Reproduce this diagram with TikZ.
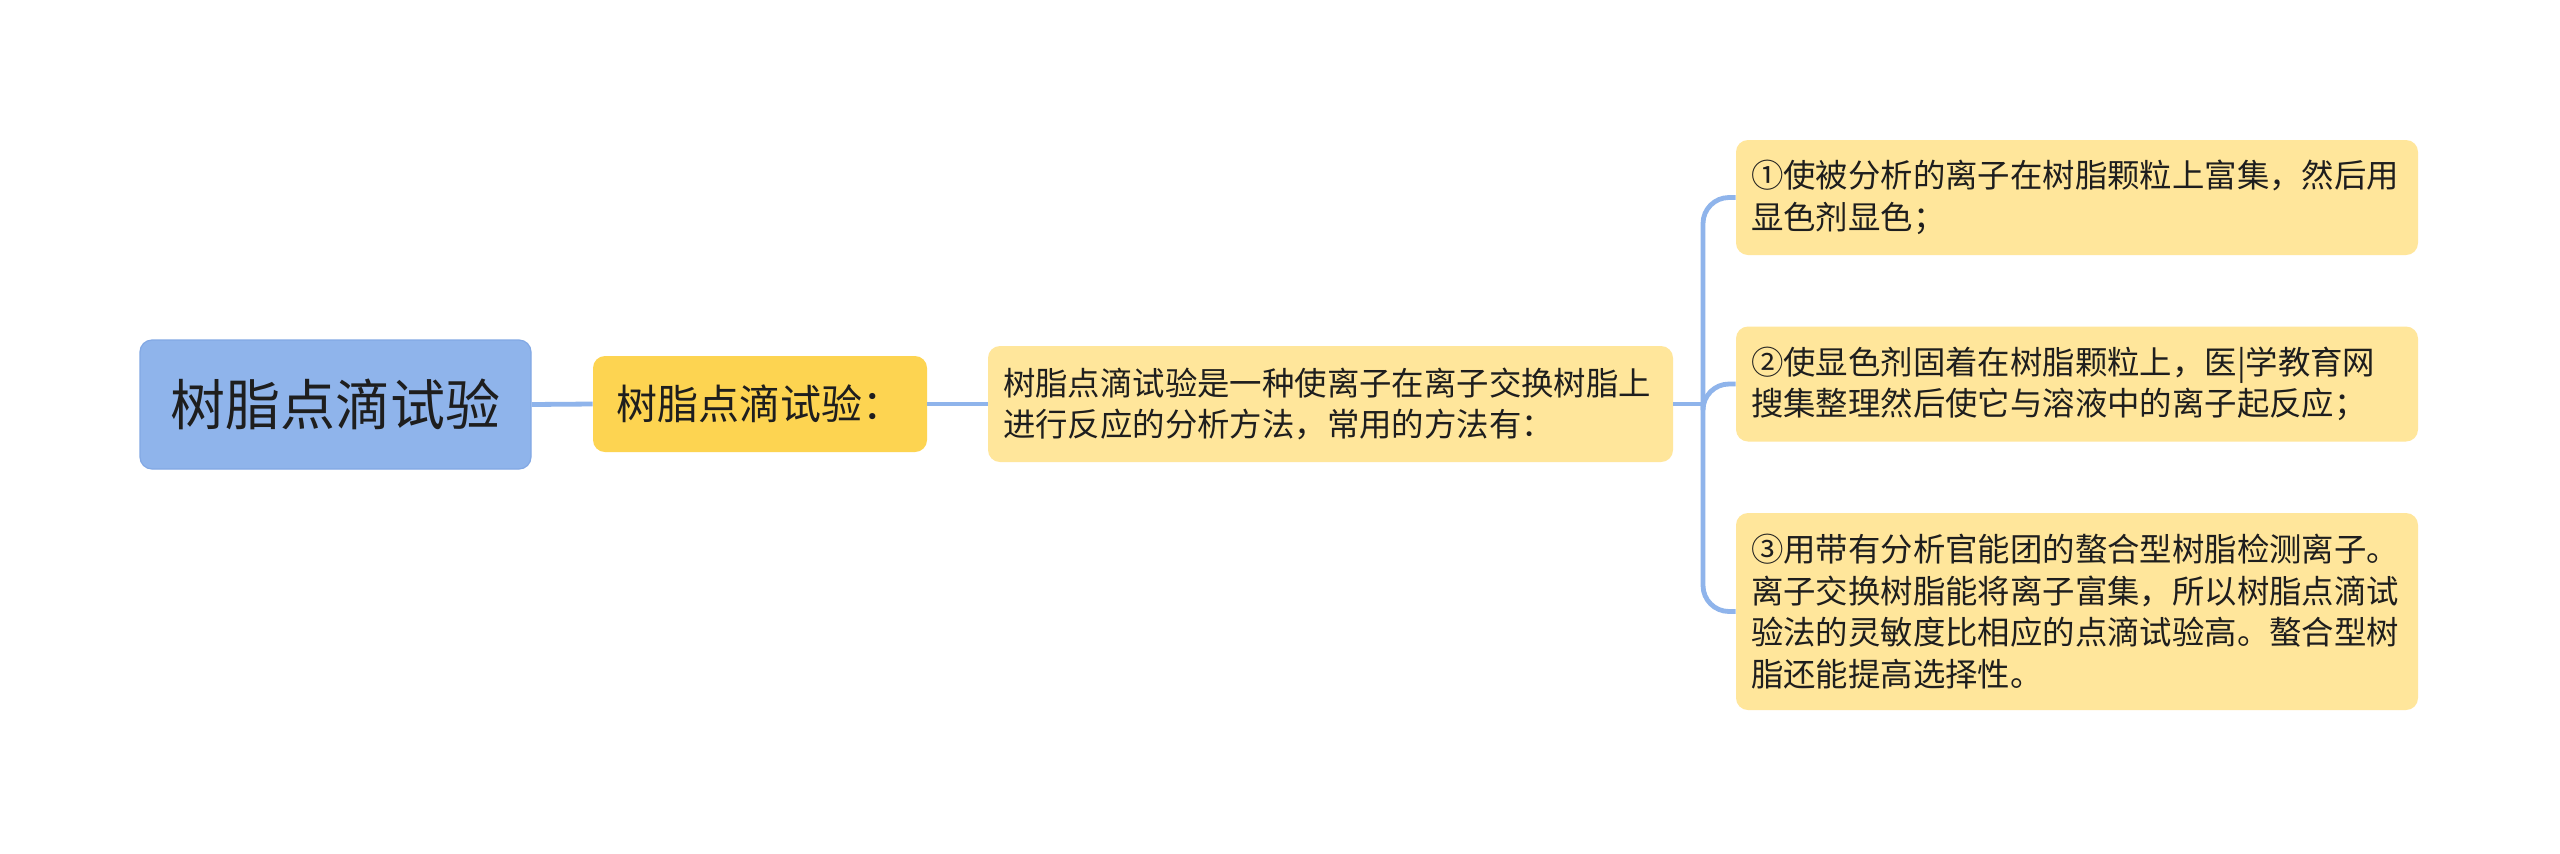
\documentclass[tikz,border=0pt]{standalone}
\usepackage{fontspec}
\setmainfont{Noto Sans CJK SC}
\definecolor{rootblue}{HTML}{8FB4EB}
\definecolor{rootedge}{HTML}{82A8E4}
\definecolor{gold}{HTML}{FDD451}
\definecolor{lightgold}{HTML}{FFE69B}
\definecolor{linkblue}{HTML}{8FB4EB}
\definecolor{ink}{HTML}{1E1E1E}
\tikzset{
  rootbox/.style={draw=rootedge, line width=0.6pt, fill=rootblue, rounded corners=6pt, minimum width=195.5pt, minimum height=64.5pt, inner sep=0pt, text=ink, font=\fontsize{27.5}{33}\selectfont},
  subbox/.style={fill=gold, rounded corners=6pt, minimum width=167pt, minimum height=48pt, inner sep=0pt, text=ink, font=\fontsize{20.5}{25}\selectfont},
  leafbox/.style={fill=lightgold, rounded corners=6pt, inner xsep=7.5pt, inner ysep=0pt, align=left, text=ink, font=\fontsize{16.2}{20.8}\selectfont},
  conn/.style={draw=linkblue, line width=2.4pt},
}
\begin{document}
\begin{tikzpicture}[x=0.5pt,y=-0.5pt]
\path[use as bounding box, fill=white] (0,0) rectangle (2560,853);
\node[rootbox] (root) at (335.5,404.5) {树脂点滴试验};
\node[subbox] (sub) at (760,404) {树脂点滴试验：};
\node[leafbox, text width=327.5pt, minimum height=58pt] (desc) at (1330.5,404) {树脂点滴试验是一种使离子在离子交换树脂上\\进行反应的分析方法，常用的方法有：};
\node[leafbox, text width=326pt, minimum height=57.5pt] (m1) at (2077,197.5) {①使被分析的离子在树脂颗粒上富集，然后用\\显色剂显色；};
\node[leafbox, text width=326pt, minimum height=57.5pt] (m2) at (2077,384) {②使显色剂固着在树脂颗粒上，医|学教育网\\搜集整理然后使它与溶液中的离子起反应；};
\node[leafbox, text width=326pt, minimum height=98.5pt] (m3) at (2077,611.5) {③用带有分析官能团的螯合型树脂检测离子。\\离子交换树脂能将离子富集，所以树脂点滴试\\验法的灵敏度比相应的点滴试验高。螯合型树\\脂还能提高选择性。};
\coordinate (j) at (1703,404);
\draw[conn] (root.east) -- (sub.west);
\draw[conn] (sub.east) -- (desc.west);
\draw[conn] (desc.east) -- (j);
\draw[conn, rounded corners=13pt] (j) |- (m1.west);
\draw[conn, rounded corners=13pt] (j) |- (m2.west);
\draw[conn, rounded corners=13pt] (j) |- (m3.west);
\end{tikzpicture}
\end{document}
